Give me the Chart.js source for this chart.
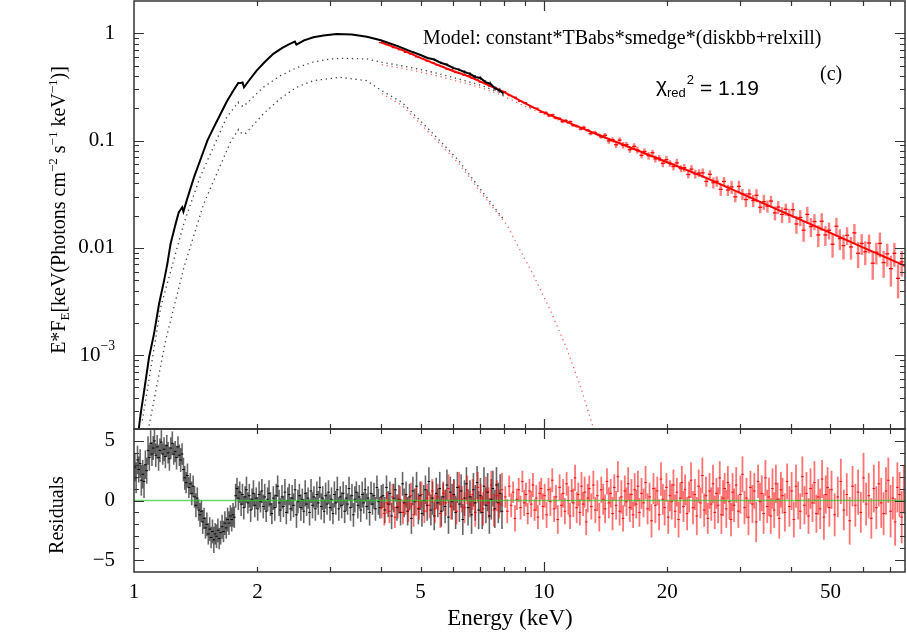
<!DOCTYPE html>
<html lang="en">
<head>
    <meta charset="UTF-8">
    <title>Spectrum fit</title>
    <script src="https://cdn.jsdelivr.net/npm/chart.js"></script>
    <style>
        html, body { margin: 0; padding: 0; background: #fff; }
        #wrap { position: relative; width: 907px; height: 632px; overflow: hidden; }
        #topChart { position: absolute; left: 0; top: 0; }
        #resChart { position: absolute; left: 0; top: 427px; }
    </style>
</head>
<body>
    <div id="wrap">
        <canvas id="topChart" width="907" height="432"></canvas>
        <canvas id="resChart" width="907" height="205"></canvas>
    </div>

    <script>
        // ---- top panel: unfolded spectrum E*F_E ----
        // black instrument, data (1-8 keV), relative errors
        const blackE = [1.028, 1.038, 1.06, 1.088, 1.119, 1.151, 1.184, 1.206, 1.228, 1.263, 1.286, 1.300, 1.311, 1.320, 1.348, 1.401, 1.455, 1.51, 1.561, 1.62,
            1.683, 1.74, 1.796, 1.82, 1.84, 1.855, 1.92, 1.991, 2.09, 2.187, 2.30, 2.40, 2.469, 2.475, 2.49, 2.60, 2.739, 2.9, 3.12, 3.4,
            3.7, 4.0, 4.4, 4.8, 5.0, 5.2, 5.4, 5.6, 5.8, 6.0, 6.2, 6.4, 6.6, 6.8, 7.0, 7.2, 7.4, 7.6, 7.8, 7.95];
        const blackF = [2.1e-4, 2.84e-4, 4.8e-4, 9.5e-4, 1.58e-3, 3.0e-3, 4.95e-3, 7.1e-3, 0.0109, 0.0167, 0.0215, 0.0228, 0.0239, 0.0218, 0.0285, 0.0456, 0.0677, 0.100, 0.130, 0.172,
            0.230, 0.285, 0.345, 0.345, 0.348, 0.314, 0.375, 0.449, 0.545, 0.643, 0.73, 0.797, 0.837, 0.820, 0.785, 0.86, 0.918, 0.955, 0.987, 0.975,
            0.93, 0.86, 0.76, 0.665, 0.628, 0.588, 0.570, 0.531, 0.509, 0.476, 0.459, 0.436, 0.419, 0.392, 0.384, 0.351, 0.339, 0.306, 0.294, 0.276];
        const blackErr = [0.02, 0.02, 0.02, 0.015, 0.015, 0.01, 0.01, 0.01, 0.01, 0.01, 0.01, 0.01, 0.01, 0.01, 0.01, 0.01, 0.01, 0.01, 0.01, 0.01,
            0.01, 0.01, 0.01, 0.01, 0.01, 0.01, 0.01, 0.01, 0.01, 0.01, 0.01, 0.01, 0.01, 0.01, 0.01, 0.01, 0.01, 0.01, 0.01, 0.01,
            0.012, 0.015, 0.018, 0.02, 0.022, 0.025, 0.028, 0.03, 0.032, 0.035, 0.035, 0.04, 0.04, 0.042, 0.045, 0.045, 0.05, 0.05, 0.055, 0.055];

        // black model components (dotted)
        const blackRelxE = [1.048, 1.10, 1.162, 1.25, 1.324, 1.449, 1.561, 1.683, 1.796, 1.80, 1.847, 2.067, 2.27, 2.5, 2.74, 3.0, 3.24, 3.7, 4.02, 4.6, 5.37, 6.2, 7.05, 7.96];
        const blackRelxF = [2.46e-4, 7.7e-4, 2.8e-3, 7.7e-3, 0.017, 0.0456, 0.0866, 0.165, 0.227, 0.222, 0.207, 0.314, 0.40, 0.48, 0.54, 0.575, 0.585, 0.577, 0.537, 0.49, 0.433, 0.375, 0.326, 0.272];
        const blackDiskE = [1.088, 1.195, 1.26, 1.324, 1.40, 1.48, 1.60, 1.72, 1.796, 1.80, 1.866, 2.067, 2.27, 2.49, 2.739, 3.18, 3.69, 4.02, 4.5, 5.37, 6.2, 7.05, 7.96];
        const blackDiskF = [2.2e-4, 1.38e-3, 3.1e-3, 6.6e-3, 0.0131, 0.0259, 0.0514, 0.097, 0.126, 0.12, 0.115, 0.177, 0.245, 0.314, 0.362, 0.389, 0.362, 0.292, 0.228, 0.1155, 0.065, 0.034, 0.0186];

        // red instrument, data (4-76 keV)
        const redE = [4.0, 4.15, 4.3, 4.45, 4.6, 4.75, 4.9, 5.05, 5.2, 5.35, 5.5, 5.65, 5.8, 5.95, 6.1, 6.25, 6.4, 6.55, 6.7, 6.85,
            7.0, 7.2, 7.4, 7.6, 7.8, 8.0, 8.25, 8.5, 8.75, 9.0, 9.3, 9.6, 9.9,
            10.1, 10.3, 10.5, 10.7, 10.9, 11.1, 11.3, 11.6, 11.8, 12.0, 12.3, 12.5, 12.8, 13.0, 13.3, 13.6, 13.8,
            14.1, 14.4, 14.7, 15.0, 15.3, 15.6, 15.9, 16.2, 16.6, 16.9, 17.3, 17.6, 18.0, 18.4, 18.7, 19.1, 19.5, 19.9, 20.3, 20.7,
            21.1, 21.6, 22.0, 22.5, 22.9, 23.4, 23.9,
            24.4, 24.9, 25.4, 25.9, 26.4, 27.0, 27.5, 28.1, 28.7, 29.3, 29.9, 30.5, 31.1, 31.7, 32.4, 33.0, 33.7, 34.4, 35.1, 35.8,
            36.6, 37.3, 38.1, 38.9, 39.7,
            40.5, 41.3, 42.2, 43.0, 43.9, 44.8, 45.7, 46.7, 47.6, 48.6, 49.6, 50.6, 51.7, 52.7, 53.8, 54.9, 56.1, 57.2, 58.4, 59.6,
            60.8, 62.1, 63.4, 64.7, 66.0, 67.4, 68.8, 70.2, 71.6, 73.1, 74.6];
        const redF = [0.820, 0.784, 0.736, 0.704, 0.664, 0.638, 0.603, 0.582, 0.551, 0.533, 0.505, 0.491, 0.466, 0.455, 0.431, 0.423, 0.407, 0.401, 0.380, 0.371,
            0.352, 0.341, 0.320, 0.312, 0.292, 0.286, 0.263, 0.253, 0.232, 0.225, 0.206, 0.200, 0.183,
            0.183, 0.170, 0.174, 0.162, 0.161, 0.150, 0.154, 0.150, 0.138, 0.137, 0.128, 0.133, 0.125, 0.116, 0.119, 0.113, 0.108,
            0.112, 0.0993, 0.102, 0.0914, 0.101, 0.0907, 0.0917, 0.0822, 0.0883, 0.0819, 0.0728, 0.0792, 0.0722, 0.0770, 0.0675, 0.0686, 0.0614, 0.0665, 0.0614, 0.0572,
            0.0620, 0.0547, 0.0559, 0.0483, 0.0542, 0.0489, 0.0498,
            0.0500, 0.0416, 0.0485, 0.0405, 0.0417, 0.0351, 0.0416, 0.0346, 0.0370, 0.0299, 0.0374, 0.0317, 0.0282, 0.0318, 0.0276, 0.0309, 0.0239, 0.0269, 0.0245, 0.0273,
            0.0212, 0.0240, 0.0205, 0.0229, 0.0201,
            0.0227, 0.0167, 0.0192, 0.0146, 0.0205, 0.0158, 0.0176, 0.0132, 0.0177, 0.0132, 0.0146, 0.0108, 0.0159, 0.0122, 0.0105, 0.0131, 0.0102, 0.0138, 0.0089, 0.0110,
            0.0092, 0.0111, 0.0072, 0.0091, 0.0110, 0.0073, 0.0088, 0.0064, 0.0089, 0.0052, 0.0074];
        const redErr = [0.008, 0.008, 0.008, 0.008, 0.008, 0.008, 0.008, 0.008, 0.008, 0.008, 0.008, 0.008, 0.008, 0.008, 0.008, 0.008, 0.008, 0.008, 0.008, 0.008,
            0.008, 0.008, 0.008, 0.008, 0.008, 0.008, 0.012, 0.012, 0.012, 0.012, 0.012, 0.012, 0.012,
            0.025, 0.03, 0.025, 0.03, 0.028, 0.03, 0.032, 0.03, 0.028, 0.033, 0.03, 0.035, 0.03, 0.033, 0.036, 0.032, 0.035,
            0.05, 0.06, 0.055, 0.065, 0.06, 0.07, 0.06, 0.065, 0.07, 0.075, 0.06, 0.07, 0.08, 0.065, 0.075, 0.07, 0.08, 0.085, 0.07, 0.08,
            0.09, 0.075, 0.085, 0.08, 0.09, 0.095, 0.085,
            0.10, 0.11, 0.09, 0.12, 0.11, 0.13, 0.10, 0.12, 0.14, 0.11, 0.13, 0.12, 0.15, 0.11, 0.13, 0.14, 0.12, 0.16, 0.13, 0.12,
            0.15, 0.14, 0.17, 0.13, 0.15,
            0.16, 0.19, 0.17, 0.22, 0.18, 0.20, 0.17, 0.23, 0.19, 0.21, 0.18, 0.25, 0.20, 0.22, 0.26, 0.19, 0.24, 0.21, 0.27, 0.22,
            0.25, 0.20, 0.30, 0.23, 0.26, 0.28, 0.24, 0.32, 0.25, 0.35, 0.27];

        // red model (solid) and its components (dotted)
        const redModelE = [4.0, 4.5, 5.0, 5.5, 6.0, 6.4, 6.7, 7.0, 7.5, 8.0, 8.5, 9.0, 10, 12, 14, 17, 20, 24, 30, 36, 44, 50, 60, 68, 76];
        const redModelF = [0.825, 0.70, 0.59, 0.508, 0.445, 0.410, 0.383, 0.355, 0.316, 0.283, 0.250, 0.222, 0.182, 0.137, 0.108, 0.0804, 0.0628, 0.0476, 0.0327, 0.0240, 0.0171, 0.0138, 0.0101, 0.0082, 0.0068];
        const redRelxE = [4.02, 4.6, 5.37, 6.2, 7.05, 7.96, 9.0, 10, 12, 14, 17, 20, 24, 30, 36, 44, 50, 60, 68, 76];
        const redRelxF = [0.51, 0.465, 0.41, 0.355, 0.31, 0.26, 0.208, 0.176, 0.134, 0.106, 0.079, 0.061, 0.0470, 0.0323, 0.0238, 0.0170, 0.0137, 0.0100, 0.0081, 0.0067];
        const redDiskE = [4.02, 4.5, 5.37, 6.2, 7.05, 8.11, 9.42, 10.38, 11.37, 12.3, 13.2];
        const redDiskF = [0.275, 0.214, 0.108, 0.061, 0.032, 0.0165, 5.6e-3, 2.6e-3, 1.15e-3, 5.0e-4, 2.1e-4];

        // ---- bottom panel: residuals ----
        const resBlackE = [1.005, 1.012, 1.020, 1.027, 1.035, 1.042, 1.050, 1.058, 1.066, 1.074,
            1.082, 1.090, 1.098, 1.106, 1.114, 1.122, 1.130, 1.139, 1.148, 1.157,
            1.166, 1.175, 1.184, 1.193, 1.202, 1.211, 1.220, 1.230, 1.240, 1.250,
            1.260, 1.270, 1.280, 1.290, 1.300, 1.310, 1.320, 1.330, 1.340, 1.350,
            1.361, 1.372, 1.383, 1.394, 1.405, 1.416, 1.427, 1.438, 1.449, 1.460,
            1.471, 1.482, 1.494, 1.506, 1.518, 1.530, 1.542, 1.554, 1.566, 1.578,
            1.590, 1.602, 1.614, 1.627, 1.640, 1.653, 1.666, 1.679, 1.692, 1.705,
            1.718, 1.731, 1.744, 1.757, 1.770, 1.783, 1.797, 1.811, 1.825, 1.839,
            1.853, 1.867, 1.881, 1.896, 1.911, 1.926, 1.941, 1.956, 1.971, 1.987,
            2.003, 2.019, 2.035, 2.051, 2.067, 2.084, 2.101, 2.118, 2.135, 2.152,
            2.169, 2.187, 2.205, 2.223, 2.241, 2.259, 2.277, 2.296, 2.315, 2.334,
            2.353, 2.372, 2.391, 2.411, 2.431, 2.451, 2.471, 2.491, 2.511, 2.532,
            2.553, 2.574, 2.595, 2.616, 2.637, 2.659, 2.681, 2.703, 2.725, 2.747,
            2.770, 2.793, 2.816, 2.839, 2.862, 2.886, 2.910, 2.934, 2.958, 2.982,
            3.007, 3.032, 3.057, 3.082, 3.107, 3.133, 3.159, 3.185, 3.211, 3.238,
            3.265, 3.292, 3.319, 3.346, 3.374, 3.402, 3.430, 3.458, 3.487, 3.516,
            3.545, 3.574, 3.604, 3.634, 3.664, 3.694, 3.725, 3.756, 3.787, 3.818,
            3.850, 3.882, 3.914, 3.946, 3.979, 4.012,
            4.05, 4.09, 4.13, 4.17, 4.21, 4.25, 4.30, 4.34, 4.38, 4.43,
            4.47, 4.52, 4.56, 4.61, 4.65, 4.70, 4.75, 4.79, 4.84, 4.89,
            4.94, 4.99, 5.04, 5.09, 5.14, 5.19, 5.24, 5.30, 5.35, 5.40,
            5.46, 5.51, 5.57, 5.62, 5.68, 5.74, 5.80, 5.85, 5.91, 5.97,
            6.03, 6.09, 6.15, 6.22, 6.28, 6.34, 6.40, 6.47, 6.53, 6.60,
            6.66, 6.73, 6.80, 6.87, 6.93, 7.00, 7.07, 7.14, 7.22, 7.29,
            7.36, 7.44, 7.51, 7.59, 7.66, 7.74, 7.82, 7.90];
        const resBlackV = [2.8, 1.9, 3.4, 2.6, 3.1, 1.7, 2.2, 1.6, 3.0, 2.5,
            4.2, 3.6, 4.8, 3.9, 4.4, 5.0, 3.8, 4.5, 3.6, 4.2,
            4.9, 3.9, 4.3, 3.7, 4.6, 4.0, 3.5, 4.4, 4.8, 3.9,
            4.1, 3.6, 4.5, 3.8, 3.4, 3.9, 2.6, 1.9, 1.5, 2.1,
            1.1, 1.4, 0.6, 1.2, 0.3, -0.4, 0.2, -0.8, -1.2, -0.9,
            -1.8, -1.5, -2.3, -2.0, -2.8, -2.4, -3.1, -2.6, -3.3, -2.8,
            -3.0, -2.5, -3.2, -2.7, -2.2, -2.6, -1.9, -2.3, -1.6, -1.9,
            -1.3, -1.6, -1.2, -1.4, 0.4, 1.0, 0.2, 0.7, -0.3, 0.5,
            -0.6, 0.3, 0.9, -0.2, 0.4, -0.8, 0.1, 0.6, -0.4, 0.2,
            -0.7, 0.5, -0.1, 0.8, -0.5, 0.3, -0.9, 0.1, 0.6, -0.3,
            -1.1, 0.2, -0.6, 0.4, 1.2, -0.2, -0.8, 0.3, -0.5, 0.7,
            -1.0, 0.0, 0.5, -0.7, 0.2, -0.4, 0.9, -1.2, -0.1, 0.4,
            -0.6, 0.1, -0.9, 0.6, -0.3, 0.2, -1.0, 0.8, -0.4, 0.3,
            -0.7, 0.5, -0.2, 1.1, -0.5, 0.2, -0.9, 0.4, -0.3, 0.7,
            -0.6, 0.1, -1.1, 0.5, -0.2, 0.9, -0.7, 0.3, -0.4, 0.6,
            -0.9, 0.2, -0.3, 1.0, -0.6, 0.4, -1.2, 0.1, 0.7, -0.4,
            0.3, -0.8, 0.5, -0.2, 0.9, -0.5, 0.2, -1.0, 0.6, -0.3,
            0.4, -0.7, 1.1, -0.1, -0.6, 0.3,
            0.4, -0.8, 1.1, -0.3, 0.6, -1.3, 0.2, 0.9, -0.6, 0.1,
            -1.0, 1.4, -0.2, 0.5, -0.9, 0.3, -1.5, 0.8, -0.1, 1.2,
            -0.7, 0.4, -1.1, 0.0, 0.9, -0.4, 1.6, -0.8, 0.2, -1.3,
            0.6, -0.2, 1.0, -0.9, 0.3, -0.5, 1.3, -1.4, 0.7, -0.1,
            0.5, -1.0, 1.1, -0.3, 0.8, -1.6, 0.2, 1.4, -0.6, 0.3,
            -1.2, 0.9, -0.2, 1.5, -0.8, 0.4, -1.0, 1.2, -0.4, 0.7,
            -1.3, 0.1, 1.0, -0.7, 1.3, -0.2, 0.6, -0.9];
        const resBlackErr = [1.2, 1.3, 1.2, 1.1, 1.2, 1.3, 1.2, 1.4, 1.2, 1.1,
            1.2, 1.1, 1.1, 1.0, 1.0, 1.1, 1.0, 1.0, 1.1, 1.0,
            1.0, 0.9, 1.0, 1.0, 0.9, 0.9, 1.0, 0.9, 1.0, 0.9,
            0.9, 1.0, 0.9, 0.9, 1.0, 0.9, 1.0, 1.0, 0.9, 1.0,
            0.9, 0.9, 1.0, 0.9, 0.9, 1.0, 0.9, 0.9, 1.0, 0.9,
            1.0, 0.9, 0.9, 1.0, 0.9, 1.0, 0.9, 1.0, 1.1, 0.9,
            1.0, 1.0, 0.9, 1.0, 1.0, 0.9, 1.0, 0.9, 1.0, 1.0,
            0.9, 1.0, 1.0, 0.9, 1.0, 0.9, 1.0, 0.9, 1.0, 0.9,
            1.0, 0.9, 1.1, 0.9, 1.0, 1.0, 0.9, 1.1, 1.0, 0.9,
            1.0, 1.1, 0.9, 1.0, 1.0, 1.1, 0.9, 1.0, 1.1, 1.0,
            0.9, 1.0, 1.1, 1.0, 0.9, 1.1, 1.0, 1.0, 0.9, 1.1,
            1.0, 1.1, 0.9, 1.0, 1.1, 1.0, 0.9, 1.1, 1.0, 1.0,
            1.1, 0.9, 1.0, 1.1, 1.0, 0.9, 1.1, 1.0, 1.1, 0.9,
            1.0, 1.1, 1.0, 0.9, 1.1, 1.0, 1.0, 1.1, 0.9, 1.0,
            1.1, 1.0, 0.9, 1.1, 1.0, 1.1, 1.0, 0.9, 1.1, 1.0,
            1.0, 1.1, 0.9, 1.0, 1.1, 1.0, 1.0, 1.1, 0.9, 1.1,
            1.0, 1.0, 1.1, 0.9, 1.0, 1.1, 1.0, 1.1, 1.0, 0.9,
            1.1, 1.0, 1.0, 1.1, 0.9, 1.0,
            1.0, 1.1, 1.0, 1.1, 1.0, 1.1, 1.2, 1.0, 1.1, 1.2,
            1.1, 1.0, 1.2, 1.1, 1.2, 1.1, 1.3, 1.2, 1.1, 1.2,
            1.3, 1.2, 1.1, 1.3, 1.2, 1.3, 1.2, 1.3, 1.4, 1.2,
            1.3, 1.2, 1.4, 1.3, 1.2, 1.4, 1.3, 1.4, 1.3, 1.5,
            1.3, 1.4, 1.3, 1.5, 1.4, 1.3, 1.5, 1.4, 1.5, 1.4,
            1.6, 1.4, 1.5, 1.4, 1.6, 1.5, 1.4, 1.6, 1.5, 1.6,
            1.5, 1.7, 1.5, 1.6, 1.5, 1.7, 1.6, 1.5];

        const resRedE = [4.02, 4.08, 4.14, 4.20, 4.27, 4.33, 4.40, 4.46, 4.53, 4.60,
            4.67, 4.74, 4.81, 4.88, 4.96, 5.03, 5.11, 5.19, 5.26, 5.34,
            5.42, 5.51, 5.59, 5.68, 5.76, 5.85, 5.94, 6.03, 6.12, 6.21,
            6.31, 6.40, 6.50, 6.60, 6.70, 6.80, 6.90, 7.01, 7.11, 7.22,
            7.33, 7.44, 7.55, 7.67, 7.78, 7.90,
            8.05, 8.14, 8.23, 8.32, 8.41, 8.50, 8.59, 8.68, 8.77, 8.86, 8.95, 9.04, 9.13, 9.22, 9.31, 9.40, 9.49, 9.58, 9.67, 9.76, 9.85, 9.94,
            10.04, 10.15, 10.26, 10.37, 10.48, 10.59, 10.70, 10.81, 10.92, 11.03, 11.14, 11.25, 11.36, 11.47, 11.58, 11.69, 11.80, 11.91, 12.02, 12.13,
            12.24, 12.35, 12.46, 12.57, 12.68, 12.79, 12.90,
            13.05, 13.20, 13.35, 13.50, 13.65, 13.80, 13.95, 14.10, 14.25, 14.40, 14.55, 14.70, 14.85, 15.00, 15.15, 15.30, 15.45, 15.60, 15.75, 15.90,
            16.05, 16.20, 16.35, 16.50, 16.65, 16.80, 16.95,
            17.1, 17.3, 17.5, 17.7, 17.9, 18.1, 18.3, 18.5, 18.7, 18.9, 19.1, 19.3, 19.5, 19.7, 19.9, 20.1, 20.3, 20.5, 20.7, 20.9,
            21.1, 21.3, 21.5, 21.7, 21.9,
            22.1, 22.35, 22.6, 22.85, 23.1, 23.35, 23.6, 23.85, 24.1, 24.35, 24.6, 24.85, 25.1, 25.35, 25.6, 25.85, 26.1, 26.35, 26.6, 26.85,
            27.1, 27.35, 27.6, 27.85, 28.1, 28.35, 28.6, 28.85,
            29.1, 29.45, 29.8, 30.15, 30.5, 30.85, 31.2, 31.55, 31.9, 32.25, 32.6, 32.95, 33.3, 33.65, 34.0, 34.35, 34.7, 35.05, 35.4, 35.75,
            36.1, 36.45, 36.8, 37.15, 37.5, 37.85,
            38.2, 38.7, 39.2, 39.7, 40.2, 40.7, 41.2, 41.7, 42.2, 42.7, 43.2, 43.7, 44.2, 44.7, 45.2, 45.7, 46.2, 46.7, 47.2, 47.7,
            48.2, 48.7, 49.2, 49.7,
            50.3, 51.2, 52.1, 53.0, 53.9, 54.8, 55.7, 56.6, 57.5, 58.4, 59.3, 60.2, 61.1, 62.0, 62.9, 63.8, 64.7, 65.6, 66.5, 67.4,
            68.3, 69.2, 70.1, 71.0, 71.9, 72.8, 73.7, 74.6, 75.5];
        const resRedV = [-0.6, -1.1, -0.2, -0.9, 0.3, -1.4, -0.5, 0.1, -1.0, -0.3,
            -0.8, 0.4, -1.2, -0.1, -0.6, 0.5, -0.9, 0.2, -0.4, 0.8,
            -0.7, 0.3, -1.1, 0.6, -0.2, 1.0, -0.5, 0.4, -0.9, 1.2,
            0.1, -0.6, 0.9, -0.3, 0.5, -1.0, 1.1, 0.2, -0.7, 0.8,
            -0.2, 1.3, -0.8, 0.4, -0.3, 0.9,
            0.3, -0.9, 1.2, -0.4, 0.7, -1.5, 0.1, 0.9, -0.6, 1.6, -0.2, 0.5, -1.1, 0.8, -0.3, 1.3, -0.8, 0.2, -1.4, 0.6, 1.0, -0.5,
            0.4, -1.2, 0.9, -0.1, 1.7, -0.7, 0.3, -1.6, 1.1, -0.4, 0.6, -0.9, 1.4, 0.0, -1.3, 0.8, -0.2, 1.9, -0.6, 0.5,
            -1.0, 1.2, -0.3, 0.7, -1.8, 0.2, 1.0,
            -0.5, 1.3, -0.8, 0.4, -1.4, 0.9, 0.1, -0.7, 1.6, -0.2, 0.6, -1.1, 1.1, -0.4, 2.0, -0.9, 0.3, -1.5, 0.8, -0.1,
            1.4, -0.6, 0.5, -1.2, 0.9, -0.3, 1.2,
            -1.0, 0.6, -0.2, 1.5, -0.7, 0.3, -1.7, 1.0, -0.4, 0.8, -1.2, 1.8, 0.1, -0.6, 1.1, -1.4, 0.4, -0.1, 1.3, -0.9,
            0.7, -1.6, 0.2, 1.5, -0.5,
            0.9, -1.1, 0.3, 1.7, -0.6, 0.5, -1.3, 1.2, -0.2, 2.1, -0.8, 0.4, -1.5, 0.8, -0.3, 1.4, -1.0, 0.6, -0.4, 1.9,
            -1.2, 0.2, 1.0, -0.7, 1.5, -0.1, -1.6, 0.7,
            -0.4, 1.3, -0.9, 0.5, 2.2, -0.6, 0.2, -1.4, 1.1, -0.3, 0.8, -1.8, 1.6, -0.1, 0.6, -1.1, 1.9, -0.5, 0.3, -1.3,
            1.0, -0.8, 1.4, 0.1, -1.5, 0.9,
            0.4, -1.0, 1.6, -0.5, 0.8, -1.6, 1.2, 0.0, -0.9, 2.0, -0.4, 0.6, -1.3, 1.0, -0.2, 1.5, -1.1, 0.3, -0.7, 1.8,
            -1.4, 0.5, 1.1, -0.6,
            0.9, -1.2, 0.3, 1.6, -0.8, 0.5, -1.7, 1.2, -0.4, 0.7, -1.0, 1.9, -0.3, 0.4, -1.5, 1.0, -0.6, 1.4, -0.2, -1.1,
            0.8, 1.7, -0.9, 0.2, -1.8, 1.1, 0.5, -1.4, 0.9];
        const resRedErr = [0.9, 1.0, 0.9, 1.0, 1.1, 0.9, 1.0, 1.1, 1.0, 0.9,
            1.0, 1.1, 1.0, 1.2, 1.0, 1.1, 1.0, 1.2, 1.1, 1.0,
            1.2, 1.1, 1.2, 1.0, 1.1, 1.2, 1.1, 1.3, 1.1, 1.2,
            1.1, 1.3, 1.2, 1.1, 1.3, 1.2, 1.3, 1.2, 1.4, 1.2,
            1.3, 1.2, 1.4, 1.3, 1.2, 1.4,
            0.9, 1.0, 0.9, 1.0, 0.9, 1.1, 0.9, 1.0, 1.0, 0.9, 1.1, 1.0, 0.9, 1.0, 1.1, 1.0, 0.9, 1.1, 1.0, 1.0, 0.9, 1.1,
            1.0, 1.1, 1.0, 1.2, 1.0, 1.1, 1.0, 1.2, 1.1, 1.0, 1.2, 1.1, 1.0, 1.2, 1.1, 1.0, 1.2, 1.1, 1.3, 1.0,
            1.1, 1.2, 1.0, 1.3, 1.1, 1.2, 1.1,
            1.1, 1.2, 1.1, 1.3, 1.2, 1.1, 1.3, 1.2, 1.1, 1.3, 1.2, 1.4, 1.1, 1.2, 1.3, 1.2, 1.4, 1.1, 1.3, 1.2,
            1.4, 1.2, 1.3, 1.1, 1.4, 1.2, 1.3,
            1.2, 1.3, 1.2, 1.4, 1.3, 1.2, 1.4, 1.3, 1.5, 1.2, 1.3, 1.4, 1.3, 1.5, 1.2, 1.4, 1.3, 1.5, 1.3, 1.4,
            1.2, 1.5, 1.3, 1.4, 1.3,
            1.3, 1.4, 1.3, 1.5, 1.4, 1.3, 1.6, 1.4, 1.3, 1.5, 1.4, 1.6, 1.3, 1.5, 1.4, 1.6, 1.4, 1.3, 1.5, 1.4,
            1.6, 1.5, 1.3, 1.6, 1.4, 1.5, 1.4, 1.6,
            1.4, 1.5, 1.4, 1.6, 1.5, 1.4, 1.7, 1.5, 1.4, 1.6, 1.5, 1.7, 1.4, 1.6, 1.5, 1.7, 1.5, 1.4, 1.6, 1.5,
            1.7, 1.5, 1.6, 1.4, 1.7, 1.5,
            1.5, 1.6, 1.5, 1.7, 1.6, 1.5, 1.8, 1.6, 1.5, 1.7, 1.6, 1.8, 1.5, 1.7, 1.6, 1.8, 1.6, 1.5, 1.7, 1.6,
            1.9, 1.6, 1.7, 1.6,
            1.6, 1.8, 1.7, 1.9, 1.7, 1.8, 2.0, 1.7, 1.8, 1.9, 1.7, 2.1, 1.8, 1.9, 1.7, 2.0, 1.8, 1.9, 2.1, 1.8,
            2.0, 1.9, 2.2, 1.8, 2.0, 2.1, 1.9, 2.2, 2.0];

        // axis ticks and labels
        const xTickVals = [1, 2, 3, 4, 5, 6, 7, 8, 9, 10, 20, 30, 40, 50, 60, 70];
        const xMajorVals = [1, 10];
        const xLabelVals = [1, 2, 5, 10, 20, 50];
        const yTopLabels = ['1', '0.1', '0.01'];
        const yTopLabelVals = [1, 0.1, 0.01];
        const resLabelVals = [5, 0, -5];

        const X_MIN = 1, X_MAX = 76;
        const SERIF = '"Liberation Serif", "Times New Roman", serif';
        const SANS = '"Liberation Sans", Arial, sans-serif';

        function pts(xs, ys) {
            const out = [];
            for (let i = 0; i < xs.length; i++) {
                if (ys[i] === undefined) continue;
                out.push({ x: xs[i], y: ys[i] });
            }
            return out;
        }

        // vertical error bars, drawn under the datasets
        const errorBars = {
            id: 'errorBars',
            beforeDatasetsDraw(chart) {
                const { ctx, chartArea: a } = chart;
                const xs = chart.scales.x, ys = chart.scales.y;
                ctx.save();
                ctx.beginPath();
                ctx.rect(a.left, a.top, a.right - a.left, a.bottom - a.top);
                ctx.clip();
                chart.data.datasets.forEach(ds => {
                    if (!ds.errs) return;
                    ctx.strokeStyle = ds.barColor;
                    ctx.lineWidth = ds.barWidth || 1;
                    ds.data.forEach((p, i) => {
                        const e = ds.errs[i];
                        if (e === undefined) return;
                        const hi = ds.relErr ? p.y * (1 + e) : p.y + e;
                        const lo = ds.relErr ? p.y * (1 - e) : p.y - e;
                        const px = xs.getPixelForValue(p.x);
                        ctx.beginPath();
                        ctx.moveTo(px, ys.getPixelForValue(hi));
                        ctx.lineTo(px, ys.getPixelForValue(lo));
                        ctx.stroke();
                    });
                });
                ctx.restore();
            }
        };

        // text with sub/superscripts: parts = [[text, 0|1|-1], ...]
        function richWidth(ctx, parts, size, family) {
            let w = 0;
            parts.forEach(([t, k]) => {
                ctx.font = (k ? size * 0.65 : size) + 'px ' + family;
                w += ctx.measureText(t).width;
            });
            return w;
        }
        function drawRich(ctx, parts, x, y, size, family) {
            parts.forEach(([t, k]) => {
                ctx.font = (k ? size * 0.65 : size) + 'px ' + family;
                const dy = k === 1 ? -size * 0.42 : (k === -1 ? size * 0.22 : 0);
                ctx.fillText(t, x, y + dy);
                x += ctx.measureText(t).width;
            });
        }

        // frame + inward ticks on all four sides, then the extras (labels etc.)
        function frameAndTicks(name, yTicks, yMajor, extras) {
            return {
                id: 'frame_' + name,
                afterDraw(chart) {
                    const { ctx, chartArea: a } = chart;
                    const xs = chart.scales.x, ys = chart.scales.y;
                    ctx.save();
                    ctx.strokeStyle = '#333';
                    ctx.lineWidth = 1.2;
                    ctx.beginPath();
                    xTickVals.forEach(v => {
                        if (v <= X_MIN || v >= X_MAX) return;
                        const px = Math.round(xs.getPixelForValue(v)) + 0.5;
                        const len = xMajorVals.includes(v) ? 10 : 5;
                        ctx.moveTo(px, a.bottom); ctx.lineTo(px, a.bottom - len);
                        ctx.moveTo(px, a.top); ctx.lineTo(px, a.top + len);
                    });
                    yTicks.forEach(v => {
                        if (v <= ys.min || v >= ys.max) return;
                        const py = Math.round(ys.getPixelForValue(v)) + 0.5;
                        const len = yMajor(v) ? 10 : 5;
                        ctx.moveTo(a.left, py); ctx.lineTo(a.left + len, py);
                        ctx.moveTo(a.right, py); ctx.lineTo(a.right - len, py);
                    });
                    ctx.stroke();
                    ctx.lineWidth = 1.5;
                    ctx.strokeRect(a.left, a.top, a.right - a.left, a.bottom - a.top);
                    ctx.fillStyle = '#000';
                    extras(ctx, chart, xs, ys, a);
                    ctx.restore();
                }
            };
        }

        // log tick positions for the top y axis
        const yTopTicks = [];
        for (let d = -4; d <= 0; d++) {
            for (let m = 1; m <= 9; m++) yTopTicks.push(m * Math.pow(10, d));
        }
        const yResTicks = [-5, -4, -3, -2, -1, 0, 1, 2, 3, 4, 5];

        const dotted = { showLine: true, pointRadius: 0, borderWidth: 1.3, borderDash: [1.3, 3.7], fill: false };

        new Chart(document.getElementById('topChart').getContext('2d'), {
            type: 'scatter',
            data: {
                datasets: [
                    { label: 'black data', data: pts(blackE, blackF), errs: blackErr, relErr: true, barColor: 'rgba(0,0,0,0.6)', barWidth: 1.5,
                      showLine: true, borderColor: '#000', borderWidth: 2, pointRadius: 0, order: 0 },
                    { label: 'red model', data: pts(redModelE, redModelF), showLine: true, borderColor: '#ff0000', borderWidth: 2, pointRadius: 0, order: 1 },
                    { label: 'red data', data: pts(redE, redF), errs: redErr, relErr: true, barColor: 'rgba(255,0,0,0.5)', barWidth: 2.4,
                      showLine: false, pointStyle: 'line', pointRadius: 2, pointBorderWidth: 1.3, pointBorderColor: '#ff0000', order: 2 },
                    Object.assign({ label: 'black relxill', data: pts(blackRelxE, blackRelxF), borderColor: 'rgba(0,0,0,0.75)', order: 3 }, dotted),
                    Object.assign({ label: 'black diskbb', data: pts(blackDiskE, blackDiskF), borderColor: 'rgba(0,0,0,0.75)', order: 4 }, dotted),
                    Object.assign({ label: 'red relxill', data: pts(redRelxE, redRelxF), borderColor: 'rgba(255,0,0,0.6)', order: 5 }, dotted),
                    Object.assign({ label: 'red diskbb', data: pts(redDiskE, redDiskF), borderColor: 'rgba(255,0,0,0.6)', order: 6 }, dotted)
                ]
            },
            options: {
                responsive: false,
                animation: false,
                devicePixelRatio: 1,
                events: [],
                layout: { autoPadding: false, padding: { left: 134, right: 2, top: 1, bottom: 3 } },
                scales: {
                    x: { type: 'logarithmic', min: X_MIN, max: X_MAX, display: false },
                    y: { type: 'logarithmic', min: 2.05e-4, max: 2.0, display: false }
                },
                plugins: { legend: { display: false }, tooltip: { enabled: false } }
            },
            plugins: [errorBars, frameAndTicks('top', yTopTicks, v => Math.abs(Math.log10(v) - Math.round(Math.log10(v))) < 1e-6,
                (ctx, chart, xs, ys, a) => {
                    // y tick labels
                    ctx.font = '21px ' + SERIF;
                    ctx.textAlign = 'right';
                    ctx.textBaseline = 'middle';
                    yTopLabelVals.forEach((v, i) => ctx.fillText(yTopLabels[i], a.left - 19, ys.getPixelForValue(v)));
                    ctx.textAlign = 'left';
                    const p3 = [['10', 0], ['\u22123', 1]];
                    const w3 = richWidth(ctx, p3, 21, SERIF);
                    drawRich(ctx, p3, a.left - 19 - w3, ys.getPixelForValue(0.001), 21, SERIF);

                    // y axis title
                    ctx.save();
                    ctx.textBaseline = 'alphabetic';
                    ctx.translate(65, 210);
                    ctx.rotate(-Math.PI / 2);
                    const tParts = [['E*F', 0], ['E', -1], ['[keV(Photons cm', 0], ['\u22122', 1], [' s', 0], ['\u22121', 1], [' keV', 0], ['\u22121', 1], [')]', 0]];
                    drawRich(ctx, tParts, -richWidth(ctx, tParts, 20, SERIF) / 2, 0, 20, SERIF);
                    ctx.restore();

                    // annotations
                    ctx.textBaseline = 'alphabetic';
                    ctx.font = '20px ' + SERIF;
                    ctx.fillText('Model: constant*TBabs*smedge*(diskbb+relxill)', 423, 44);
                    ctx.fillText('(c)', 820, 80);
                    let cx = 656;
                    ctx.font = '21px ' + SANS;
                    ctx.fillText('\u03c7', cx, 92); cx += ctx.measureText('\u03c7').width;
                    ctx.font = '13px ' + SANS;
                    ctx.fillText('red', cx, 97);
                    const wr = ctx.measureText('red').width;
                    ctx.fillText('2', cx + wr + 1, 84);
                    cx += wr + 1 + ctx.measureText('2').width;
                    ctx.font = '21px ' + SANS;
                    ctx.fillText(' = 1.19', cx, 95);
                })]
        });

        new Chart(document.getElementById('resChart').getContext('2d'), {
            type: 'scatter',
            data: {
                datasets: [
                    { label: 'zero', data: [{ x: X_MIN, y: 0 }, { x: X_MAX, y: 0 }], showLine: true, borderColor: 'rgba(40,200,40,0.7)', borderWidth: 1.3, pointRadius: 0, order: 0 },
                    { label: 'black res', data: pts(resBlackE, resBlackV), errs: resBlackErr, relErr: false, barColor: 'rgba(0,0,0,0.6)', barWidth: 1.6,
                      pointStyle: 'line', pointRadius: 1.3, pointBorderWidth: 1, pointBorderColor: '#000', order: 2 },
                    { label: 'red res', data: pts(resRedE, resRedV), errs: resRedErr, relErr: false, barColor: 'rgba(255,0,0,0.55)', barWidth: 1.8,
                      pointStyle: 'line', pointRadius: 1.3, pointBorderWidth: 1, pointBorderColor: '#ff0000', order: 1 }
                ]
            },
            options: {
                responsive: false,
                animation: false,
                devicePixelRatio: 1,
                events: [],
                layout: { autoPadding: false, padding: { left: 134, right: 2, top: 2, bottom: 60 } },
                scales: {
                    x: { type: 'logarithmic', min: X_MIN, max: X_MAX, display: false },
                    y: { type: 'linear', min: -6, max: 6, display: false }
                },
                plugins: { legend: { display: false }, tooltip: { enabled: false } }
            },
            plugins: [errorBars, frameAndTicks('res', yResTicks, v => v % 5 === 0,
                (ctx, chart, xs, ys, a) => {
                    ctx.font = '21px ' + SERIF;
                    ctx.textAlign = 'right';
                    ctx.textBaseline = 'middle';
                    resLabelVals.forEach(v => ctx.fillText(v < 0 ? '\u2212' + Math.abs(v) : String(v), a.left - 19, ys.getPixelForValue(v)));

                    ctx.textAlign = 'center';
                    ctx.textBaseline = 'alphabetic';
                    xLabelVals.forEach(v => ctx.fillText(String(v), xs.getPixelForValue(v), 171));

                    ctx.font = '23px ' + SERIF;
                    ctx.fillText('Energy (keV)', 510, 198);

                    ctx.save();
                    ctx.font = '20px ' + SERIF;
                    ctx.textBaseline = 'middle';
                    ctx.translate(58, 88);
                    ctx.rotate(-Math.PI / 2);
                    ctx.fillText('Residuals', 0, 0);
                    ctx.restore();
                })]
        });
    </script>
</body>
</html>
